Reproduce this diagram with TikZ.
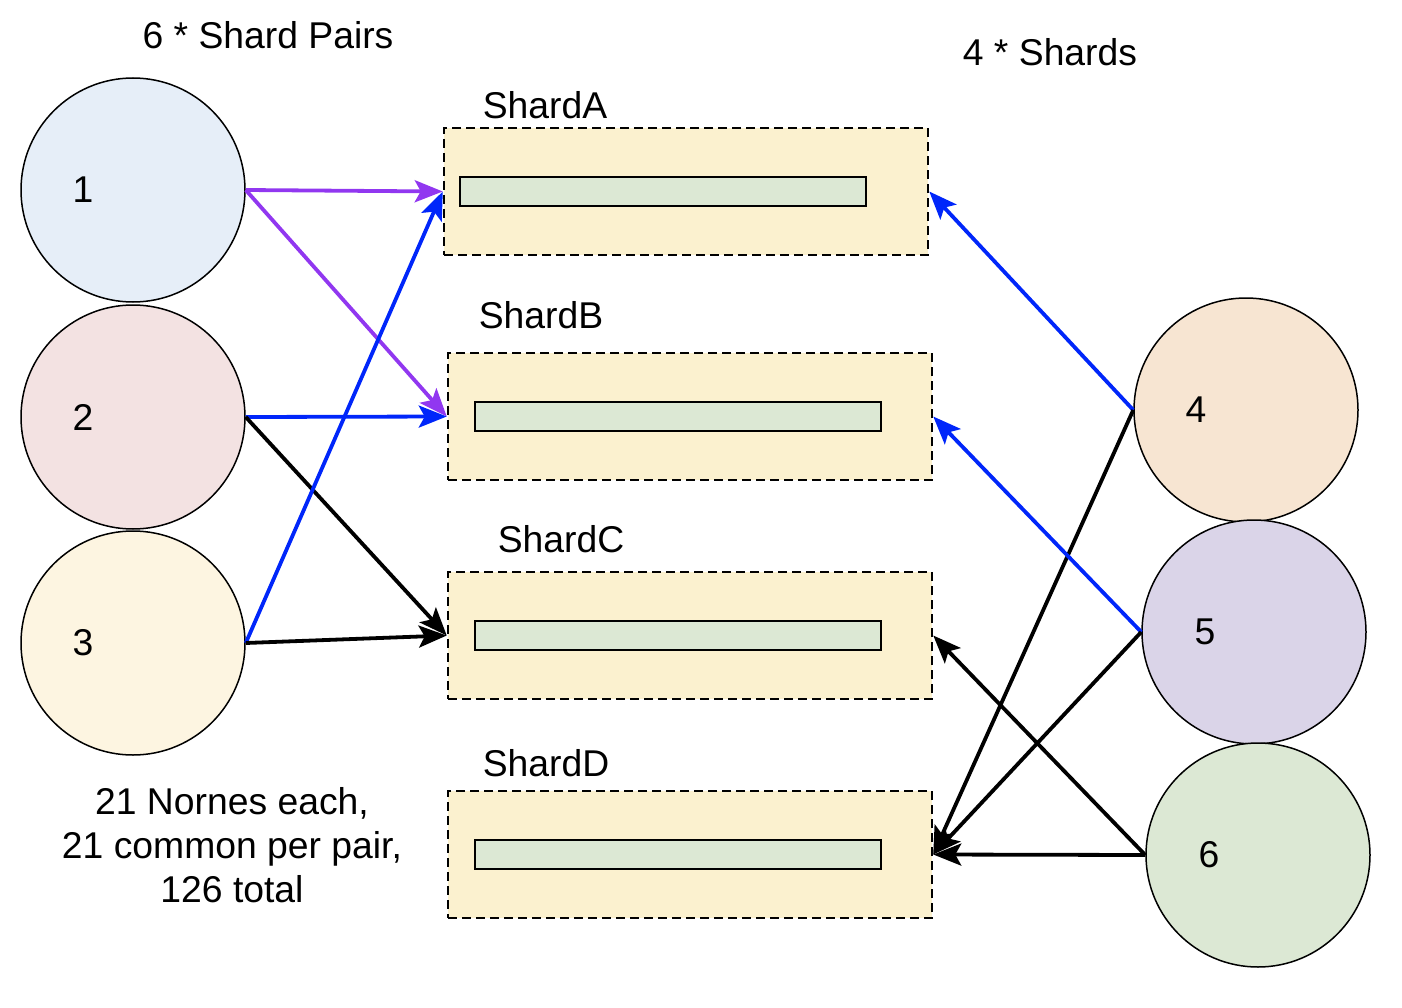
\documentclass[tikz,border=0pt]{standalone}
\usepackage{fontspec}
\setmainfont{Liberation Sans}
\usetikzlibrary{arrows.meta}
\definecolor{cOne}{RGB}{230,238,248}
\definecolor{cTwo}{RGB}{243,226,226}
\definecolor{cThree}{RGB}{253,245,225}
\definecolor{cFour}{RGB}{247,229,210}
\definecolor{cFive}{RGB}{218,212,232}
\definecolor{cSix}{RGB}{220,232,212}
\definecolor{shardfill}{RGB}{251,241,207}
\definecolor{barfill}{RGB}{220,232,212}
\definecolor{linkpurple}{RGB}{145,55,240}
\definecolor{linkblue}{RGB}{0,38,250}
\begin{document}
\begin{tikzpicture}[x=1pt,y=-1pt,
  every node/.style={font=\fontsize{37.3}{44}\selectfont},
  pairnode/.style={circle,draw=black,line width=1.5pt,minimum size=224pt,inner sep=0pt},
  shardbox/.style={rectangle,draw=black,dashed,dash pattern=on 9pt off 5pt,line width=2.5pt,fill=shardfill,minimum width=484pt,minimum height=127pt,inner sep=0pt},
  bar/.style={rectangle,draw=black,line width=2.2pt,fill=barfill,minimum width=406pt,minimum height=29pt,inner sep=0pt},
  link/.style={line width=3.8pt,-{Stealth[length=28pt,width=22pt,inset=6pt]}},
  caption/.style={inner sep=0pt}
]
\useasboundingbox (0,0) rectangle (1402,1008);

% shard pairs (left)
\node[pairnode,fill=cOne]   (p1) at (133,190) {};
\node[pairnode,fill=cTwo]   (p2) at (133,417) {};
\node[pairnode,fill=cThree] (p3) at (133,643) {};
% shard pairs (right)
\node[pairnode,fill=cFour]  (p4) at (1246,410) {};
\node[pairnode,fill=cFive]  (p5) at (1254,632) {};
\node[pairnode,fill=cSix]   (p6) at (1258,855) {};

\node[caption] (n1) at ([xshift=-50pt]p1.center) {1};
\node[caption] (n2) at ([xshift=-50pt]p2.center) {2};
\node[caption] (n3) at ([xshift=-50pt]p3.center) {3};
\node[caption] (n4) at ([xshift=-50pt]p4.center) {4};
\node[caption] (n5) at ([xshift=-49pt]p5.center) {5};
\node[caption] (n6) at ([xshift=-49pt]p6.center) {6};

% shards
\node[shardbox] (sA) at (686,191.5) {};
\node[shardbox] (sB) at (690,416.5) {};
\node[shardbox] (sC) at (690,635.5) {};
\node[shardbox] (sD) at (690,854.5) {};
\node[bar] (bA) at (663,191.5) {};
\node[bar] (bB) at (678,416.5) {};
\node[bar] (bC) at (678,635.5) {};
\node[bar] (bD) at (678,854.5) {};

\node[caption] (tA) at (545,105) {ShardA};
\node[caption] (tB) at (541,315) {ShardB};
\node[caption] (tC) at (561,539) {ShardC};
\node[caption] (tD) at (546,763) {ShardD};

\node[caption] (hPairs) at (268,35) {6 * Shard Pairs};
\node[caption] (hShards) at (1050,52) {4 * Shards};
\node[caption,align=center] (note) at (232,845) {21 Nornes each,\\21 common per pair,\\126 total};

% connectors
\draw[link,linkpurple] (p1.east) -- (sA.west);
\draw[link,linkpurple] (p1.east) -- (sB.west);
\draw[link,linkblue]   (p2.east) -- (sB.west);
\draw[link,black]      (p2.east) -- (sC.west);
\draw[link,linkblue]   (p3.east) -- (sA.west);
\draw[link,black]      (p3.east) -- (sC.west);
\draw[link,linkblue]   (p4.west) -- (sA.east);
\draw[link,black]      (p4.west) -- (sD.east);
\draw[link,linkblue]   (p5.west) -- (sB.east);
\draw[link,black]      (p5.west) -- (sD.east);
\draw[link,black]      (p6.west) -- (sC.east);
\draw[link,black]      (p6.west) -- (sD.east);
\end{tikzpicture}
\end{document}
